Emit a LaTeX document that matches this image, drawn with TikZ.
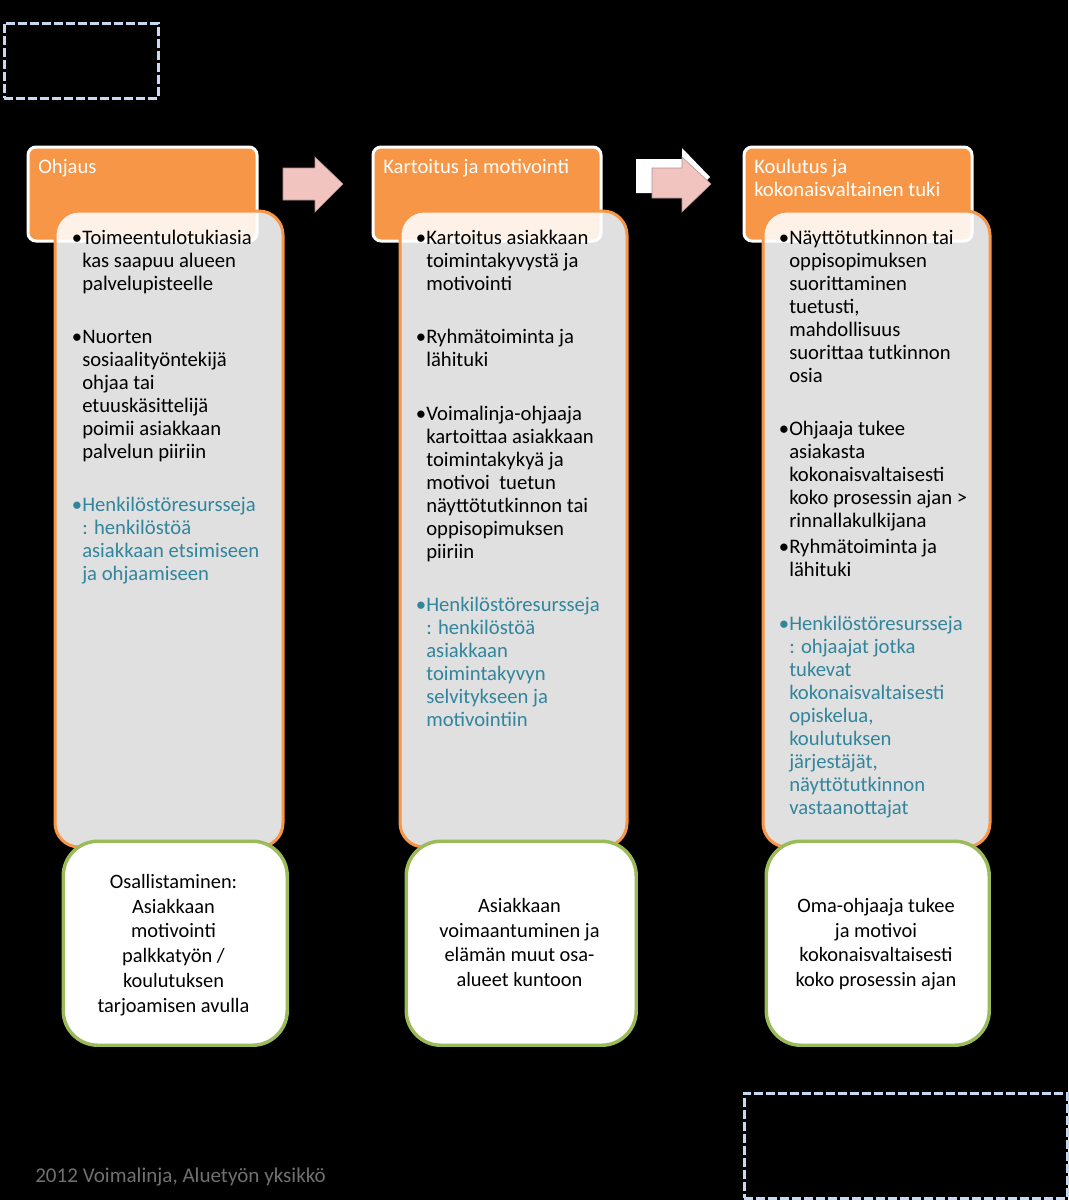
\documentclass[tikz,border=0pt]{standalone}
\usepackage{fontspec}
\setmainfont{Carlito}
\usetikzlibrary{positioning}

\definecolor{hdrorange}{HTML}{F79646}
\definecolor{outgreen}{HTML}{9BBB59}
\definecolor{resblue}{HTML}{31859C}
\definecolor{arrowpink}{HTML}{F2C4C0}
\definecolor{arrowedge}{HTML}{B09090}
\definecolor{dashblue}{HTML}{C6D9F1}
\definecolor{footgray}{HTML}{707070}

\newcommand{\bodyfont}{\fontsize{15.5}{17.25}\selectfont}
\newcommand{\outfont}{\fontsize{15.3}{18.6}\selectfont}

\tikzset{
  header/.style={draw=white, line width=2.25pt, fill=hdrorange, rounded corners=6pt, anchor=north west, inner sep=0pt},
  panel/.style={draw=hdrorange, line width=2.25pt, fill=white, fill opacity=0.88, rounded corners=18pt, anchor=north west, inner sep=0pt},
  outcome/.style={draw=outgreen, line width=2.6pt, fill=white, rounded corners=26pt, anchor=north west, inner sep=0pt},
  placeholder/.style={draw=dashblue, line width=2.25pt, dash pattern=on 6.75pt off 2.25pt, anchor=north west, inner sep=0pt},
  hdrtext/.style={anchor=north west, align=left, inner sep=0pt, text=white, font=\bodyfont},
  item/.style={anchor=north west, align=left, inner sep=0pt, font=\bodyfont},
  resitem/.style={item, text=resblue},
  outtext/.style={anchor=north, align=center, inner sep=0pt, font=\outfont},
  blockarrow/.style={fill=arrowpink, draw=arrowedge, line width=0.4pt}
}

\begin{document}
\begin{tikzpicture}[x=0.75pt, y=-0.75pt]
  % black page
  \fill[black] (0,0) rectangle (1068,1200);
  \useasboundingbox (0,0) rectangle (1068,1200);

  % empty placeholder frames
  \node[placeholder, minimum width={154*0.75pt}, minimum height={75*0.75pt}] (topframe) at (2.5,21.5) {};
  \node[placeholder, minimum width={323*0.75pt}, minimum height={105*0.75pt}] (botframe) at (742.5,1091.5) {};

  % column headers
  \node[header, minimum width={229*0.75pt}, minimum height={94*0.75pt}] (hdrA) at (26.5,145.5) {};
  \node[header, minimum width={228*0.75pt}, minimum height={94*0.75pt}] (hdrB) at (371.5,145.5) {};
  \node[header, minimum width={228*0.75pt}, minimum height={94*0.75pt}] (hdrC) at (742.5,145.5) {};
  \node[hdrtext] (titA) at (38,157) {\strut Ohjaus};
  \node[hdrtext] (titB) at (383,157) {\strut Kartoitus ja motivointi};
  \node[hdrtext] (titC) at (754,157) {\strut Koulutus ja\\kokonaisvaltainen tuki};

  % content panels
  \node[panel, minimum width={228*0.75pt}, minimum height={636*0.75pt}] (panA) at (53.5,209.5) {};
  \node[panel, minimum width={227*0.75pt}, minimum height={636*0.75pt}] (panB) at (398.5,209.5) {};
  \node[panel, minimum width={227*0.75pt}, minimum height={636*0.75pt}] (panC) at (761.5,209.5) {};

  % block arrows between the headers
  \fill[blockarrow] (283,168) -- (315,168) -- (315,157) -- (343,184) -- (315,212) -- (315,200) -- (283,200) -- cycle;
  \fill[white] (636,159) -- (682,159) -- (682,148) -- (710,177) -- (682,205) -- (682,193) -- (636,193) -- cycle;
  \fill[blockarrow] (652,168) -- (682,168) -- (682,157) -- (711,184) -- (682,212) -- (682,198) -- (652,198) -- cycle;

  % column 1
  \node[item] (itA1) at (82,228) {\strut\llap{•}Toimeentulotukiasia\\kas saapuu alueen\\palvelupisteelle};
  \node[item] (itA2) at (82,327) {\strut\llap{•}Nuorten\\sosiaalityöntekijä\\ohjaa tai\\etuuskäsittelijä\\poimii asiakkaan\\palvelun piiriin};
  \node[resitem] (itA3) at (82,495) {\strut\llap{•}Henkilöstöresursseja\\: henkilöstöä\\asiakkaan etsimiseen\\ja ohjaamiseen};

  % column 2
  \node[item] (itB1) at (426,228) {\strut\llap{•}Kartoitus asiakkaan\\toimintakyvystä ja\\motivointi};
  \node[item] (itB2) at (426,327) {\strut\llap{•}Ryhmätoiminta ja\\lähituki};
  \node[item] (itB3) at (426,404) {\strut\llap{•}Voimalinja-ohjaaja\\kartoittaa asiakkaan\\toimintakykyä ja\\motivoi~ tuetun\\näyttötutkinnon tai\\oppisopimuksen\\piiriin};
  \node[resitem] (itB4) at (426,595) {\strut\llap{•}Henkilöstöresursseja\\: henkilöstöä\\asiakkaan\\toimintakyvyn\\selvitykseen ja\\motivointiin};

  % column 3
  \node[item] (itC1) at (789,228) {\strut\llap{•}Näyttötutkinnon tai\\oppisopimuksen\\suorittaminen\\tuetusti,\\mahdollisuus\\suorittaa tutkinnon\\osia};
  \node[item] (itC2) at (789,419) {\strut\llap{•}Ohjaaja tukee\\asiakasta\\kokonaisvaltaisesti\\koko prosessin ajan >\\rinnallakulkijana};
  \node[item] (itC3) at (789,537) {\strut\llap{•}Ryhmätoiminta ja\\lähituki};
  \node[resitem] (itC4) at (789,614) {\strut\llap{•}Henkilöstöresursseja\\: ohjaajat jotka\\tukevat\\kokonaisvaltaisesti\\opiskelua,\\koulutuksen\\järjestäjät,\\näyttötutkinnon\\vastaanottajat};

  % outcome boxes
  \node[outcome, minimum width={224*0.75pt}, minimum height={204*0.75pt}] (outA) at (61.5,839.5) {};
  \node[outcome, minimum width={230*0.75pt}, minimum height={204*0.75pt}] (outB) at (404.5,839.5) {};
  \node[outcome, minimum width={223*0.75pt}, minimum height={204*0.75pt}] (outC) at (764.5,839.5) {};
  \node[outtext] (resA) at (173.5,870.6) {\strut Osallistaminen:\\Asiakkaan\\motivointi\\palkkatyön /\\koulutuksen\\tarjoamisen avulla};
  \node[outtext] (resB) at (519.5,894.6) {\strut Asiakkaan\\voimaantuminen ja\\elämän muut osa-\\alueet kuntoon};
  \node[outtext] (resC) at (876,894.6) {\strut Oma-ohjaaja tukee\\ja motivoi\\kokonaisvaltaisesti\\koko prosessin ajan};

  % footer
  \node[anchor=base west, inner sep=0pt, text=footgray, font=\fontsize{15.8}{18}\selectfont] (credit) at (35,1182) {2012 Voimalinja, Aluetyön yksikkö};
\end{tikzpicture}
\end{document}
